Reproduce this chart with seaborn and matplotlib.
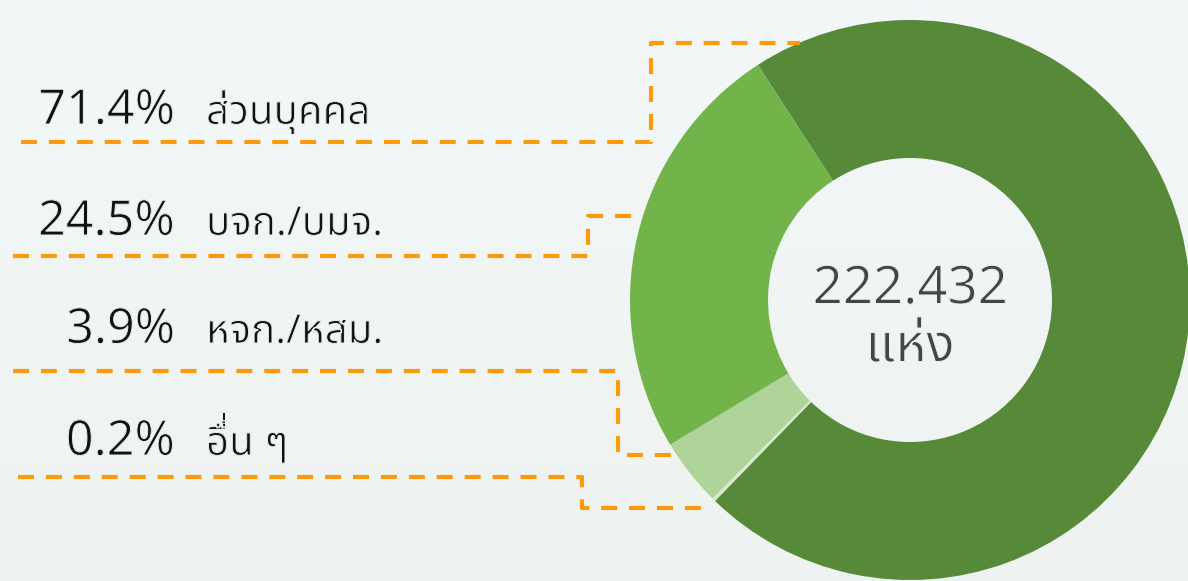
import numpy as np
import seaborn as sns
import matplotlib
matplotlib.use("Agg")
import matplotlib.pyplot as plt
import matplotlib.patheffects as pe
from matplotlib import font_manager

# data
labels = ['ส่วนบุคคล', 'บจก./บมจ.', 'หจก./หสม.', 'อื่น ๆ']
shares = [71.4, 24.5, 3.9, 0.2]
colors = ['#568a38', '#72b44a', '#aed49a', '#d8eace']
total_value = '222.432'
total_unit = 'แห่ง'

# pie order going clockwise from the top-left boundary
pie_order = [0, 3, 2, 1]

sns.set_theme(style='white')
names = {f.name for f in font_manager.fontManager.ttflist}
thai = next((n for n in ['Noto Sans Thai', 'Noto Sans Thai UI', 'IBM Plex Sans Thai', 'Sarabun']
             if n in names), 'DejaVu Sans')
plt.rcParams['font.family'] = ['Noto Sans', thai, 'DejaVu Sans']
plt.rcParams['lines.scale_dashes'] = False

W, H = 1188, 581
bg = '#f1f5f5'
fig = plt.figure(figsize=(W / 100, H / 100), dpi=100)
ax = fig.add_axes([0, 0, 1, 1])

# soft background gradient
grad = np.linspace(0, 1, 256)[:, None, None]
top = np.array([243, 247, 248]) / 255
bot = np.array([238, 243, 241]) / 255
img = top * (1 - grad) + bot * grad
ax.imshow(img, extent=[0, W, 0, H], origin='upper', aspect='auto', zorder=0)

# only variable fonts at regular weight here, so thin the strokes a little
thin = [pe.Normal(), pe.Stroke(linewidth=0.7, foreground=bg)]


def Y(y):
    return H - y


# donut
cx, cy, R, r = 910, Y(300), 280, 142
ax.pie([shares[i] for i in pie_order], colors=[colors[i] for i in pie_order],
       center=(cx, cy), radius=R, startangle=122.9, counterclock=False,
       wedgeprops=dict(width=R - r, linewidth=0), frame=True)
ax.set_xlim(0, W)
ax.set_ylim(0, H)
ax.set_aspect('equal')
ax.axis('off')

ax.text(cx, Y(290), total_value, ha='center', va='center',
        fontsize=38, color='#454545', path_effects=thin)
ax.text(cx, Y(348), total_unit, ha='center', va='center',
        fontsize=38, color='#454545', path_effects=thin)

# labels and leader lines
baselines = [124, 235, 343, 455]
leaders = [
    [(21, 142), (651, 142), (651, 43), (800, 43)],
    [(13, 256), (588, 256), (588, 216), (633, 216)],
    [(13, 371), (618, 371), (618, 455), (673, 455)],
    [(18, 477), (582, 477), (582, 508), (703, 508)],
]
orange = '#fa9a0c'
fig.canvas.draw()
renderer = fig.canvas.get_renderer()


def text_width(s, size):
    t = ax.text(0, 0, s, fontsize=size)
    w = t.get_window_extent(renderer).width
    t.remove()
    return w


lx, fs = 206, 29
for i, (lab, v) in enumerate(zip(labels, shares)):
    ax.text(175, Y(baselines[i]), f'{v:.1f}%', ha='right', va='baseline',
            fontsize=35, color='#111111', path_effects=thin)
    ax.text(lx, Y(baselines[i]), lab, ha='left', va='baseline',
            fontsize=fs, color='#111111', path_effects=thin)
    # no mark stacking in matplotlib: lift a tone mark that sits on an upper vowel
    for k, ch in enumerate(lab):
        if ch == '\u0e48' and k > 0 and lab[k - 1] in '\u0e34\u0e35\u0e36\u0e37':
            w = text_width(lab[:k - 1], fs)
            nb = text_width('\u00a0', fs)
            ax.text(lx + w - nb, Y(baselines[i]) + 9, '\u00a0' + ch, ha='left',
                    va='baseline', fontsize=fs, color='#111111', path_effects=thin)
    xs, ys = zip(*leaders[i])
    ax.plot(xs, [Y(y) for y in ys], color=orange, lw=3,
            dashes=(11.5, 8.6), solid_joinstyle='miter', dash_capstyle='butt')

fig.savefig('out.png', dpi=100)
